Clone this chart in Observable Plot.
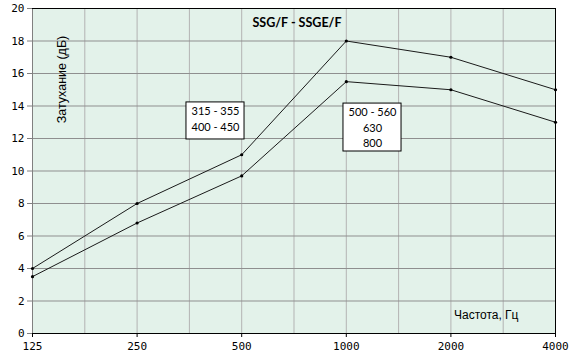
<!DOCTYPE html>
<html>
<head>
<meta charset="utf-8">
<script src="https://cdn.jsdelivr.net/npm/d3@7"></script>
<script src="https://cdn.jsdelivr.net/npm/@observablehq/plot@0.6"></script>
<style>
  html, body { margin: 0; padding: 0; background: #ffffff; }
</style>
</head>
<body>
<div id="chart"></div>
<script>
// Frequencies (Hz), equally spaced octave bands
const frequencies = ["125", "250", "500", "1000", "2000", "4000"];
// Attenuation (dB) for size group 315-355 / 400-450
const seriesUpper = [4, 8, 11, 18, 17, 15];
// Attenuation (dB) for size group 500-560 / 630 / 800
const seriesLower = [3.5, 6.8, 9.7, 15.5, 15, 13];
const yTicks = [0, 2, 4, 6, 8, 10, 12, 14, 16, 18, 20];
const titleText = "SSG/F - SSGE/F";
const yLabel = "Затухание (дБ)";
const xLabel = "Частота, Гц";
const label1 = "315 - 355\n400 - 450";
const label2 = "500 - 560\n630\n800";

const rows = [];
frequencies.forEach((f, i) => {
  rows.push({i, v: seriesUpper[i], s: "upper"});
  rows.push({i, v: seriesLower[i], s: "lower"});
});
const idx = frequencies.map((_, i) => i);
const halfGrid = d3.range(0.5, frequencies.length - 1, 0.5);
const hGrid = yTicks.filter(t => t > 0 && t < 20);

const boxes = [
  {x1: 1.472, x2: 2.027, y1: 11.94, y2: 14.22, t: label1, ty: 14.1},
  {x1: 2.973, x2: 3.528, y1: 11.2, y2: 14.15, t: label2, ty: 14.03}
];

const chart = Plot.plot({
  width: 581,
  height: 363,
  marginLeft: 32,
  marginRight: 26,
  marginTop: 8,
  marginBottom: 30,
  style: {background: "#ffffff", fontFamily: "DejaVu Sans Mono", fontSize: "11px", color: "#000"},
  x: {type: "linear", domain: [0, frequencies.length - 1], axis: null},
  y: {domain: [0, 20], axis: null},
  marks: [
    Plot.frame({fill: "#e3f2ea", stroke: null}),
    Plot.ruleX(halfGrid, {stroke: "#b3b3b3", strokeWidth: 1}),
    Plot.ruleY(hGrid, {stroke: "#8f8f8f", strokeWidth: 1}),
    Plot.ruleX([0], {stroke: "#808080", strokeWidth: 1}),
    Plot.ruleY([20], {stroke: "#000", strokeWidth: 1}),
    Plot.ruleX([frequencies.length - 1], {stroke: "#000", strokeWidth: 1}),
    Plot.ruleY([0], {stroke: "#000", strokeWidth: 1.2}),
    Plot.axisY({ticks: yTicks, tickSize: 5, tickPadding: 3, stroke: "#808080", fontFamily: "DejaVu Sans Mono", fontSize: 11, fill: "#000"}),
    Plot.axisX({ticks: idx, tickFormat: i => frequencies[i], tickSize: 4, tickPadding: 5, fontFamily: "DejaVu Sans Mono", fontSize: 11, fill: "#000", stroke: "#000"}),
    Plot.line(rows, {x: "i", y: "v", z: "s", stroke: "#1a1a1a", strokeWidth: 1}),
    Plot.dot(rows, {x: "i", y: "v", r: 1.6, fill: "#000", stroke: null}),
    Plot.rect(boxes, {x1: "x1", x2: "x2", y1: "y1", y2: "y2", fill: "#fff", stroke: "#000", strokeWidth: 1}),
    Plot.text(boxes, {x: d => (d.x1 + d.x2) / 2, y: "ty", text: "t", lineAnchor: "top", lineHeight: 1.4, fontFamily: "Lato", fontSize: 11, fill: "#000"}),
    Plot.text([titleText], {frameAnchor: "top", dx: 3, dy: 10, text: d => d, fontFamily: "Lato", fontWeight: "bold", fontSize: 12.5, fill: "#000", lineAnchor: "top"}),
    Plot.text([yLabel], {frameAnchor: "top-left", dx: 25, dy: 71, rotate: -90, text: d => d, fontFamily: "Liberation Sans", fontSize: 12.5, fill: "#000", textAnchor: "middle"}),
    Plot.text([xLabel], {frameAnchor: "bottom-right", dx: -37, dy: -15, text: d => d, fontFamily: "Liberation Sans", fontSize: 12, fill: "#000", textAnchor: "end"})
  ]
});
document.getElementById("chart").appendChild(chart);
</script>
</body>
</html>
